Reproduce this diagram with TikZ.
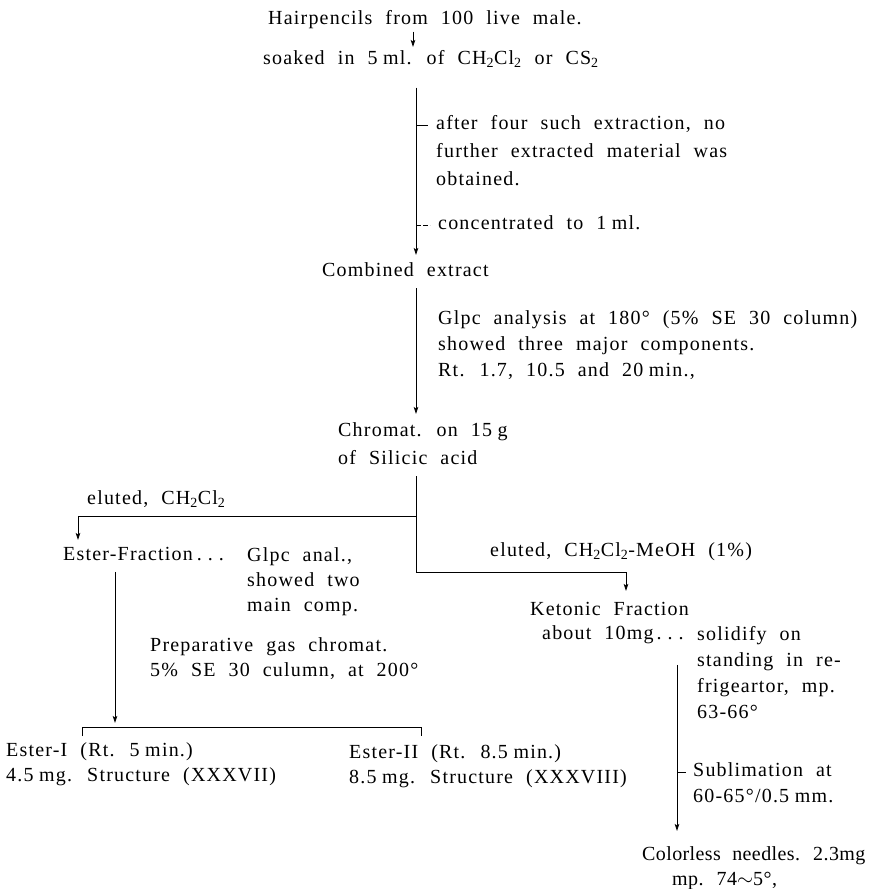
\documentclass[tikz,border=0pt]{standalone}
\usepackage{fontspec}
\setmainfont{Liberation Serif}[LetterSpace=6,WordSpace=2.1]
\usetikzlibrary{arrows.meta}
\begin{document}
\begin{tikzpicture}[x=1pt,y=-1pt,
  txt/.style={anchor=north west,inner sep=0pt,align=left,font=\fontsize{20}{26}\selectfont},
  line/.style={line width=0.8pt},
  arr/.style={line,-{Stealth[length=7pt,width=4.5pt,inset=1.5pt]}}]
  \useasboundingbox (0,0) rectangle (874,889);
  % text
  \node[txt] (hair) at (268,10) {Hairpencils from 100 live male.};
  \node[txt] (soak) at (263,50) {soaked in 5\;ml. of CH\textsubscript{2}Cl\textsubscript{2} or CS\textsubscript{2}};
  \node[txt,font=\fontsize{20}{28}\selectfont] (ext) at (436,115) {after four such extraction, no\\further extracted material was\\obtained.};
  \node[txt] (conc) at (438,215) {concentrated to 1\;ml.};
  \node[txt] (comb) at (322,262) {Combined extract};
  \node[txt] (glpc) at (438,310) {Glpc analysis at 180° (5\% SE 30 column)\\showed three major components.\\Rt. 1.7, 10.5 and 20\;min.,};
  \node[txt,font=\fontsize{20}{28}\selectfont] (chrom) at (338,422) {Chromat. on 15\;g\\of Silicic acid};
  \node[txt] (el1) at (87,490) {eluted, CH\textsubscript{2}Cl\textsubscript{2}};
  \node[txt] (ester) at (63,547) {Ester-Fraction\hspace{4pt}.\hspace{6pt}.\hspace{6pt}.};
  \node[txt,font=\fontsize{20}{25}\selectfont] (estnote) at (247,547) {Glpc anal.,\\showed two\\main comp.};
  \node[txt] (el2) at (490,542) {eluted, CH\textsubscript{2}Cl\textsubscript{2}-MeOH (1\%)};
  \node[txt,font=\fontsize{20}{24}\selectfont] (keto) at (530,602) {Ketonic Fraction\\\hspace*{12pt}about 10mg\hspace{3pt}.\hspace{6pt}.\hspace{6pt}.};
  \node[txt] (ketnote) at (697,626) {solidify on\\standing in re-\\frigeartor, mp.\\63-66°};
  \node[txt,font=\fontsize{20}{25}\selectfont] (prep) at (150,637) {Preparative gas chromat.\\5\% SE 30 culumn, at 200°};
  \node[txt,font=\fontsize{20}{25}\selectfont] (e1) at (6,742) {Ester-I (Rt. 5\;min.)\\4.5\;mg. Structure (XXXVII)};
  \node[txt,font=\fontsize{20}{25}\selectfont] (e2) at (349,744) {Ester-II (Rt. 8.5\;min.)\\8.5\;mg. Structure (XXXVIII)};
  \node[txt] (subl) at (693,762) {Sublimation at\\60-65°/0.5\;mm.};
  \node[txt,font=\fontsize{20}{25}\selectfont\addfontfeatures{LetterSpace=2}] (col) at (642,846) {Colorless needles. 2.3mg\\\hspace*{30pt}mp. 74$\sim$5°,};
  % connectors
  \coordinate (a0) at (413,0);
  \coordinate (ax) at (416,0);
  \coordinate (s1) at (416,516);
  \coordinate (s2) at (416,572);
  \coordinate (e0) at (78,0);
  \coordinate (b0) at (115,0);
  \coordinate (bl) at (82,727);
  \coordinate (br) at (421,727);
  \coordinate (k1) at (626,0);
  \coordinate (k0) at (677,0);
  \draw[arr,shorten <=3pt,shorten >=3pt] (hair.south -| a0) -- (soak.north -| a0);
  \draw[arr,shorten <=20pt,shorten >=7pt] (soak.south -| ax) -- (comb.north -| ax);
  \draw[line] (ext.north west -| ax) ++(0,10) -- ++(12,0);
  \draw[line,dash pattern=on 5pt off 2pt] (conc.north west -| ax) ++(0,10) -- ++(14,0);
  \draw[arr,shorten <=12pt,shorten >=8pt] (comb.south -| ax) -- (chrom.north -| ax);
  \draw[line,shorten <=12pt] (chrom.south -| s1) -- (s2);
  \draw[arr,shorten >=7pt] (s1) -| (ester.north -| e0);
  \draw[arr,shorten >=11pt] (s2) -| (keto.north -| k1);
  \draw[arr,shorten <=11pt,shorten >=4pt] (ester.south -| b0) -- (b0 |- bl);
  \draw[line,shorten <=6pt,shorten >=8pt] (e1.north -| bl) -- (bl) -- (br) -- (e2.north -| br);
  \draw[arr,shorten <=21pt,shorten >=15pt] (keto.south -| k0) -- (col.north -| k0);
  \draw[line] (subl.north west -| k0) ++(0,10) -- ++(9,0);
\end{tikzpicture}
\end{document}
